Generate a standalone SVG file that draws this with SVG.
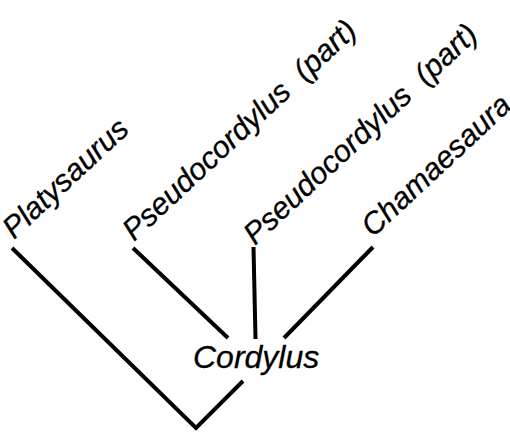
<svg xmlns="http://www.w3.org/2000/svg" width="510" height="435" viewBox="0 0 510 435">
<style>
.lbl{font-family:"Liberation Sans",Arial,sans-serif;font-style:italic;font-size:30.5px;fill:#000;stroke:#000;stroke-width:0.3}
.br{stroke:#000;stroke-width:4;fill:none;stroke-linecap:butt}
</style>
<rect width="510" height="435" fill="#fff"/>
<g id="connectors">
<polyline class="br" points="12,248 196,428 243,381"/>
<line class="br" x1="133" y1="248" x2="228" y2="338"/>
<line class="br" x1="253.5" y1="247" x2="255.5" y2="339" stroke-width="3"/>
<line class="br" x1="373" y1="247" x2="284" y2="338"/>
</g>
<g id="platysaurus"><text class="lbl" transform="translate(14,240) rotate(-43)">Platysaurus</text></g>
<g id="pseudocordylus1"><text class="lbl" transform="translate(134,242) rotate(-43)" xml:space="preserve">Pseudocordylus  (part)</text></g>
<g id="pseudocordylus2"><text class="lbl" transform="translate(255,246) rotate(-43)" xml:space="preserve">Pseudocordylus  (part)</text></g>
<g id="chamaesaura"><text class="lbl" transform="translate(373,238) rotate(-43)">Chamaesaura</text></g>
<g id="cordylus"><text class="lbl" x="193" y="368" style="font-size:32px">Cordylus</text></g>
</svg>
